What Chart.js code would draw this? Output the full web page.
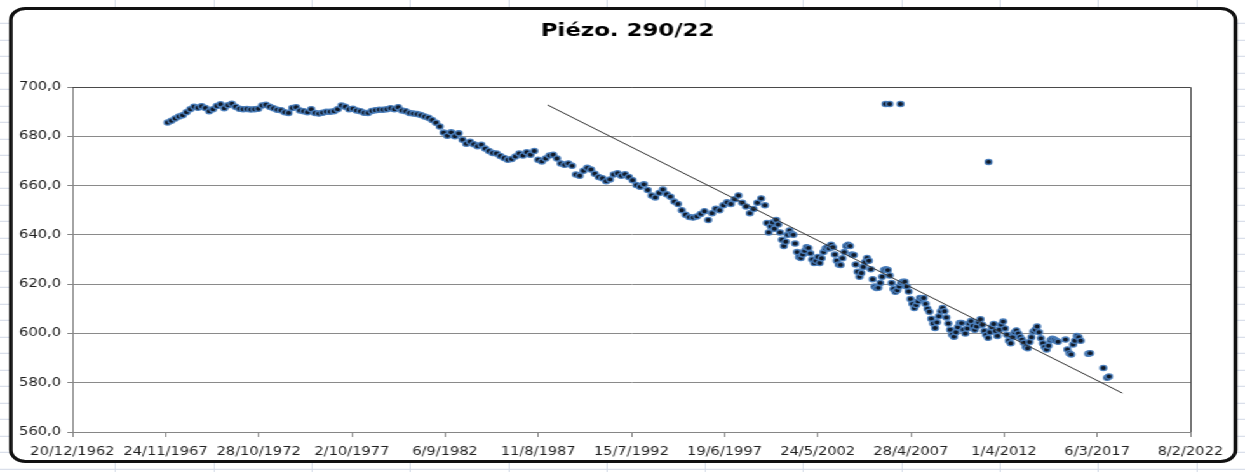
<!DOCTYPE html>
<html>
<head>
<meta charset="utf-8">
<title>Piézo. 290/22</title>
<script src="https://cdn.jsdelivr.net/npm/chart.js@4.4.1/dist/chart.umd.min.js"></script>
<style>
    html, body { margin: 0; padding: 0; }
    body {
        width: 1245px;
        height: 472px;
        overflow: hidden;
        position: relative;
        background-color: #fff;
        background-image:
            repeating-linear-gradient(to bottom, transparent 0 15.5px, #d0d7e5 15.5px 16.5px),
            repeating-linear-gradient(to right, transparent 0 97.3px, #d0d7e5 97.3px 98.3px);
        background-position: 0 7.8px, 17.7px 0;
    }
    /* the reference picture is stretched sideways, so is this one */
    #stretch {
        position: absolute;
        left: 0;
        top: 0;
        width: 980px;
        height: 472px;
        transform: scaleX(1.2704);
        transform-origin: 0 0;
    }
    #frame {
        position: absolute;
        left: 7px;
        top: 7px;
        width: 967px;
        height: 456px;
        box-sizing: border-box;
        border: 3px solid #111;
        border-radius: 13px;
        background: #fff;
    }
    #chart { position: absolute; left: 0; top: 0; }
</style>
</head>
<body>
<div id="stretch">
    <div id="frame"></div>
    <canvas id="chart" width="980" height="472"></canvas>
</div>
<script>
// ===== DATA =====
const chartTitle = 'Piézo. 290/22';

const xTickLabels = ['20/12/1962', '24/11/1967', '28/10/1972', '2/10/1977', '6/9/1982', '11/8/1987',
    '15/7/1992', '19/6/1997', '24/5/2002', '28/4/2007', '1/4/2012', '6/3/2017', '8/2/2022'];
const yMin = 560;
const yMax = 700;
const yStep = 20;

// 1968 - mid 1999 (decimal years)
const earlyYears = [
    1968.0, 1968.2, 1968.4, 1968.6, 1968.8,
    1969.0, 1969.2, 1969.4, 1969.6, 1969.8,
    1970.0, 1970.2, 1970.4, 1970.6, 1970.8,
    1971.0, 1971.2, 1971.4, 1971.6, 1971.8,
    1972.0, 1972.2, 1972.4, 1972.6, 1972.8,
    1973.0, 1973.2, 1973.4, 1973.6, 1973.8,
    1974.0, 1974.2, 1974.4, 1974.6, 1974.8,
    1975.0, 1975.2, 1975.4, 1975.6, 1975.8,
    1976.0, 1976.2, 1976.4, 1976.6, 1976.8,
    1977.0, 1977.2, 1977.4, 1977.6, 1977.8,
    1978.0, 1978.2, 1978.4, 1978.6, 1978.8,
    1979.0, 1979.2, 1979.4, 1979.6, 1979.8,
    1980.0, 1980.2, 1980.4, 1980.6, 1980.8,
    1981.0, 1981.2, 1981.4, 1981.6, 1981.8,
    1982.0, 1982.2, 1982.4, 1982.6, 1982.8,
    1983.0, 1983.2, 1983.4, 1983.6, 1983.8,
    1984.0, 1984.2, 1984.4, 1984.6, 1984.8,
    1985.0, 1985.2, 1985.4, 1985.6, 1985.8,
    1986.0, 1986.2, 1986.4, 1986.6, 1986.8,
    1987.0, 1987.2, 1987.4, 1987.6, 1987.8,
    1988.0, 1988.2, 1988.4, 1988.6, 1988.8,
    1989.0, 1989.2, 1989.4, 1989.6, 1989.8,
    1990.0, 1990.2, 1990.4, 1990.6, 1990.8,
    1991.0, 1991.2, 1991.4, 1991.6, 1991.8,
    1992.0, 1992.2, 1992.4, 1992.6, 1992.8,
    1993.0, 1993.2, 1993.4, 1993.6, 1993.8,
    1994.0, 1994.2, 1994.4, 1994.6, 1994.8,
    1995.0, 1995.2, 1995.4, 1995.6, 1995.8,
    1996.0, 1996.2, 1996.4, 1996.6, 1996.8,
    1997.0, 1997.2, 1997.4, 1997.6, 1997.8,
    1998.0, 1998.2, 1998.4, 1998.6, 1998.8,
    1999.0, 1999.2, 1999.4, 1999.6
];
const earlyLevels = [
    685.6, 686.3, 687.2, 688.0, 688.5,
    689.8, 691.0, 692.0, 691.6, 692.2,
    691.5, 690.2, 691.0, 692.3, 693.0,
    691.4, 692.6, 693.2, 692.0, 691.2,
    691.0, 691.1, 690.9, 691.0, 691.2,
    692.5, 692.8, 692.0, 691.4, 690.8,
    690.6, 689.8, 689.5, 691.5, 691.8,
    690.5, 690.2, 689.8, 691.0, 689.5,
    689.2, 689.6, 690.0, 690.0, 690.2,
    691.0, 692.5, 692.0, 691.0, 691.2,
    690.5, 690.2, 689.6, 689.5, 690.3,
    690.6, 690.8, 690.8, 691.0, 691.4,
    691.0, 691.8, 690.5, 690.2, 689.5,
    689.2, 689.0, 688.6, 688.0, 687.5,
    686.6, 685.5, 684.0, 681.5, 680.2,
    681.6, 680.0, 681.2, 678.6, 677.0,
    677.8, 676.8, 676.0, 676.6, 675.0,
    674.0, 673.2, 673.0, 672.0, 671.2,
    670.5, 670.8, 671.8, 673.0, 672.2,
    673.5, 672.5, 674.0, 670.5, 669.8,
    671.0, 672.2, 672.5, 671.0, 669.0,
    668.4, 669.0, 668.0, 664.5, 664.0,
    666.0, 667.2, 666.5, 664.8, 663.5,
    663.0, 661.8, 662.5, 664.5, 665.0,
    664.0, 664.6, 663.5, 662.2, 660.2,
    659.5, 660.5, 658.2, 656.0, 655.2,
    657.0, 658.4, 656.5, 655.5, 653.5,
    652.5, 650.0, 648.2, 647.2, 647.0,
    647.5, 648.5, 649.6, 646.0, 648.8,
    650.6, 650.0, 652.0, 653.2, 652.5,
    654.5, 656.0, 653.0, 651.5, 648.8,
    650.5, 653.0, 654.8, 652.0
];

// mid 1999 - 2017
const lateYears = [
    1999.7, 1999.8, 1999.9,
    2000.0, 2000.1, 2000.2, 2000.3, 2000.4, 2000.5, 2000.6, 2000.7, 2000.8, 2000.9,
    2001.0, 2001.1, 2001.2, 2001.3, 2001.4, 2001.5, 2001.6, 2001.7, 2001.8, 2001.9,
    2002.0, 2002.1, 2002.2, 2002.3, 2002.4, 2002.5, 2002.6, 2002.7, 2002.8, 2002.9,
    2003.0, 2003.1, 2003.2, 2003.3, 2003.4, 2003.5, 2003.6, 2003.7, 2003.8, 2003.9,
    2004.0, 2004.1, 2004.2, 2004.3, 2004.4, 2004.5, 2004.6, 2004.7, 2004.8, 2004.9,
    2005.0, 2005.1, 2005.2, 2005.3, 2005.4, 2005.5, 2005.6, 2005.7, 2005.8, 2005.9,
    2006.0, 2006.1, 2006.2, 2006.3, 2006.4, 2006.5, 2006.6, 2006.7, 2006.8, 2006.9,
    2007.0, 2007.1, 2007.2, 2007.3, 2007.4, 2007.5, 2007.6, 2007.7, 2007.8, 2007.9,
    2008.0, 2008.1, 2008.2, 2008.3, 2008.4, 2008.5, 2008.6, 2008.7, 2008.8, 2008.9,
    2009.0, 2009.1, 2009.2, 2009.3, 2009.4, 2009.5, 2009.6, 2009.7, 2009.8, 2009.9,
    2010.0, 2010.1, 2010.2, 2010.3, 2010.4, 2010.5, 2010.6, 2010.7, 2010.8, 2010.9,
    2011.0, 2011.1, 2011.2, 2011.3, 2011.4, 2011.5, 2011.6, 2011.7, 2011.8, 2011.9,
    2012.0, 2012.1, 2012.2, 2012.3, 2012.4, 2012.5, 2012.6, 2012.7, 2012.8, 2012.9,
    2013.0, 2013.1, 2013.2, 2013.3, 2013.4, 2013.5, 2013.6, 2013.7, 2013.8, 2013.9,
    2014.0, 2014.1, 2014.2, 2014.3, 2014.4, 2014.5, 2014.6, 2014.7, 2014.8, 2014.9,
    2015.0, 2015.1, 2015.5, 2015.6, 2015.7, 2015.8, 2015.9,
    2016.0, 2016.1, 2016.2, 2016.3, 2016.7, 2016.8,
    2017.5, 2017.7, 2017.8
];
const lateLevels = [
    644.8, 641.0, 643.5,
    645.0, 642.5, 646.0, 644.2, 641.0, 638.0, 635.5, 637.2, 640.0, 641.8,
    640.5, 640.0, 636.5, 633.0, 631.0, 630.6, 632.0, 633.5, 635.0, 634.7,
    632.5, 630.0, 628.6, 629.5, 631.0, 628.6, 630.5, 633.0, 634.5, 635.0,
    634.5, 636.0, 635.0, 632.0, 629.5, 628.0, 627.8, 630.5, 633.0, 635.5,
    636.0, 635.5, 632.0, 631.8, 628.0, 625.0, 623.0, 624.5, 627.0, 629.0,
    630.6, 629.5, 626.0, 622.0, 619.0, 618.4, 618.5, 620.5, 623.0, 625.7,
    626.0, 625.7, 623.5, 620.5, 618.0, 616.9, 617.5, 619.0, 620.5, 621.0,
    621.0, 619.0, 617.0, 614.0, 612.0, 610.3, 611.5, 613.0, 614.4, 614.0,
    614.4, 612.0, 610.0, 608.8, 606.0, 604.0, 602.2, 604.5, 607.0, 609.0,
    610.3, 609.0, 606.5, 604.0, 601.5, 599.5, 598.7, 600.5, 602.5, 604.2,
    604.2, 601.5, 600.0, 602.0, 604.0, 605.0, 603.0, 601.5, 602.8, 604.5,
    605.8, 603.5, 601.0, 599.5, 598.2, 600.5, 602.5, 603.8, 601.0, 599.0,
    601.5, 603.5, 604.8, 602.0, 599.5, 597.0, 596.0, 598.5, 600.5, 601.2,
    600.0, 598.6, 597.5, 596.2, 594.5, 594.0, 596.5, 598.5, 600.8, 601.5,
    602.8, 600.5, 598.0, 596.0, 594.5, 593.5, 595.0, 597.2, 597.8, 597.5,
    597.0, 596.6, 597.5, 593.5, 592.0, 591.5, 595.5,
    597.0, 599.0, 598.5, 597.0, 591.8, 592.0,
    586.0, 582.0, 582.5
];

// stray readings
const outlierYears = [2005.98, 2006.19, 2006.77, 2011.43];
const outlierLevels = [693.1, 693.1, 693.1, 669.6];

// linear trend drawn over the data
const trendYears = [1988.1, 2018.5];
const trendLevels = [692.7, 575.8];

// ===== HELPERS =====
// Excel style day serials (25569 = 1/1/1970)
function yearToSerial(year) {
    return 25569 + (year - 1970) * 365.25;
}

function labelToSerial(label) {
    const [d, m, y] = label.split('/').map(Number);
    return Date.UTC(y, m - 1, d) / 86400000 + 25569;
}

function toPoints(years, levels) {
    return years.map((year, i) => ({ x: yearToSerial(year), y: levels[i] }));
}

const measurePoints = toPoints(earlyYears, earlyLevels)
    .concat(toPoints(lateYears, lateLevels))
    .concat(toPoints(outlierYears, outlierLevels));
const trendPoints = toPoints(trendYears, trendLevels);
const xTickValues = xTickLabels.map(labelToSerial);

// top and right edge of the plot area
const plotFrame = {
    id: 'plotFrame',
    afterDatasetsDraw(chart) {
        const { ctx, chartArea } = chart;
        ctx.save();
        ctx.strokeStyle = '#4a4a4a';
        ctx.lineWidth = 1;
        ctx.beginPath();
        ctx.moveTo(chartArea.left, chartArea.top + 0.5);
        ctx.lineTo(chartArea.right + 0.5, chartArea.top + 0.5);
        ctx.lineTo(chartArea.right + 0.5, chartArea.bottom);
        ctx.stroke();
        ctx.restore();
    }
};

// ===== CHART =====
Chart.defaults.font.family = "'DejaVu Sans', Verdana, sans-serif";

new Chart(document.getElementById('chart'), {
    type: 'scatter',
    data: {
        datasets: [
            {
                label: 'Tendance',
                data: trendPoints,
                showLine: true,
                borderColor: '#333333',
                borderWidth: 1,
                pointRadius: 0,
                fill: false
            },
            {
                label: chartTitle,
                data: measurePoints,
                pointRadius: 2.6,
                pointBackgroundColor: '#111a28',
                pointBorderColor: '#4a7ebb',
                pointBorderWidth: 1.3
            }
        ]
    },
    plugins: [plotFrame],
    options: {
        responsive: false,
        animation: false,
        layout: {
            padding: { left: 8, right: 0, top: 0, bottom: 0 }
        },
        plugins: {
            legend: { display: false },
            tooltip: { enabled: false },
            title: {
                display: true,
                text: chartTitle,
                color: '#000',
                font: { size: 18, weight: 'bold' },
                padding: { top: 21, bottom: 44.4 }
            }
        },
        scales: {
            x: {
                type: 'linear',
                min: xTickValues[0],
                max: xTickValues[xTickValues.length - 1],
                afterFit(scale) { scale.height = 40; },
                afterBuildTicks(scale) {
                    scale.ticks = xTickValues.map(v => ({ value: v }));
                },
                grid: {
                    drawOnChartArea: false,
                    drawTicks: true,
                    tickLength: 5,
                    tickColor: '#868686'
                },
                border: { display: true, color: '#868686' },
                ticks: {
                    autoSkip: false,
                    maxRotation: 0,
                    padding: 8,
                    color: '#1f1f1f',
                    font: { size: 11.5 },
                    callback: (value, index) => xTickLabels[index]
                }
            },
            y: {
                min: yMin,
                max: yMax,
                afterFit(scale) { scale.width = 49; },
                grid: {
                    color: '#8a8a8a',
                    lineWidth: 1,
                    drawTicks: true,
                    tickLength: 4,
                    tickColor: '#868686'
                },
                border: { display: true, color: '#868686' },
                ticks: {
                    stepSize: yStep,
                    padding: 5,
                    color: '#1f1f1f',
                    font: { size: 11.5 },
                    callback: value => value.toFixed(1).replace('.', ',')
                }
            },
            // empty strip on the right so the plot ends where the reference's does
            spacer: {
                type: 'linear',
                position: 'right',
                display: true,
                afterFit(scale) { scale.width = 43; },
                grid: { display: false },
                border: { display: false },
                ticks: { display: false }
            }
        }
    }
});
</script>
</body>
</html>
